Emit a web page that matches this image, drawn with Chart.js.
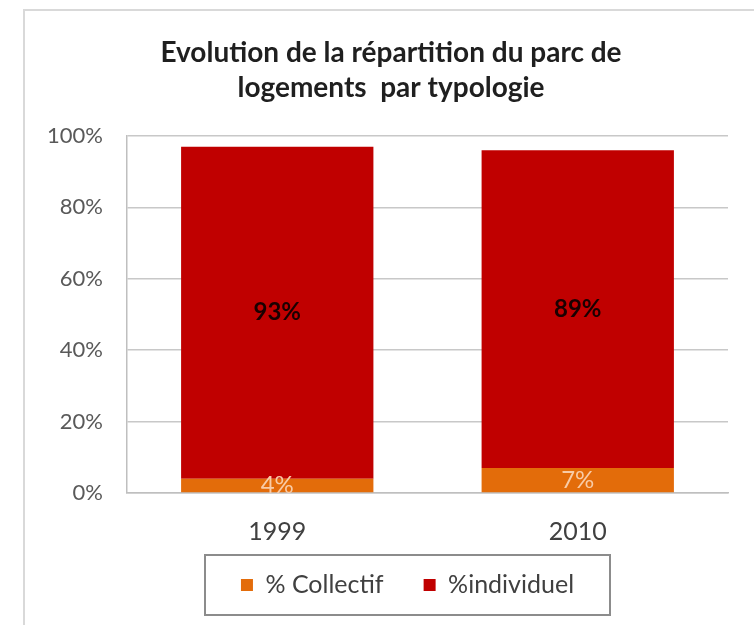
<!DOCTYPE html>
<html>
<head>
<meta charset="utf-8">
<script src="https://cdn.jsdelivr.net/npm/chart.js@4.4.1/dist/chart.umd.min.js"></script>
<style>
  html, body { margin: 0; padding: 0; background: #fff; }
  #wrap { width: 754px; height: 625px; }
</style>
</head>
<body>
<div id="wrap"><canvas id="typoChart" width="754" height="625"></canvas></div>
<script>
// données
const annees = ['1999', '2010'];
const collectif = [4, 7];
const individuel = [93, 89];
const yTicks = [0, 20, 40, 60, 80, 100];

const fontFamily = 'Lato, "Open Sans", sans-serif';

// cadre gris + fond blanc
const cadrePlugin = {
  id: 'cadre',
  beforeDraw(chart) {
    const ctx = chart.ctx;
    ctx.save();
    ctx.fillStyle = '#fff';
    ctx.fillRect(0, 0, chart.width, chart.height);
    ctx.strokeStyle = '#d9d9d9';
    ctx.lineWidth = 2;
    ctx.strokeRect(24, 10, chart.width, chart.height);
    ctx.restore();
  }
};

// place le titre et la légende (boîte encadrée)
const legendeBoxPlugin = {
  id: 'legendeBox',
  afterLayout(chart, args, opts) {
    const title = chart.titleBlock;
    if (title) {
      title.left = opts.titleLeft;
      title.right = opts.titleRight;
      title.width = opts.titleRight - opts.titleLeft;
    }
    const legend = chart.legend;
    if (!legend) return;
    const pad = legend.options.labels.padding;
    const size = legend.options.labels.font.size;
    // zone centrée sur la boîte, assez large pour garder une seule ligne
    const centre = (opts.left + opts.right) / 2;
    legend.left = centre - 300;
    legend.right = centre + 300;
    legend.width = 600;
    legend.top = (opts.top + opts.bottom) / 2 - pad - size / 2;
    legend.bottom = legend.top + legend.height;
  },
  afterDraw(chart, args, opts) {
    const ctx = chart.ctx;
    ctx.save();
    ctx.strokeStyle = '#8c8c8c';
    ctx.lineWidth = 2;
    ctx.strokeRect(opts.left, opts.top, opts.right - opts.left, opts.bottom - opts.top);
    ctx.restore();
  }
};

// étiquettes de valeurs au centre des barres
const etiquettesPlugin = {
  id: 'etiquettes',
  afterDatasetsDraw(chart) {
    const ctx = chart.ctx;
    ctx.save();
    ctx.textAlign = 'center';
    ctx.textBaseline = 'middle';
    chart.data.datasets.forEach((ds, i) => {
      const meta = chart.getDatasetMeta(i);
      ctx.font = (ds.labelWeight || 'normal') + ' 24px ' + fontFamily;
      ctx.fillStyle = ds.labelColor;
      meta.data.forEach((bar, j) => {
        const y = (bar.y + bar.base) / 2;
        ctx.fillText(ds.data[j] + '%', bar.x, y);
      });
    });
    ctx.restore();
  }
};

const ctx = document.getElementById('typoChart').getContext('2d');
new Chart(ctx, {
  type: 'bar',
  data: {
    labels: annees,
    datasets: [
      {
        label: '% Collectif',
        data: collectif,
        backgroundColor: '#e36c0a',
        labelColor: '#f8cba6',
        labelWeight: 'normal',
        categoryPercentage: 1,
        barPercentage: 0.64,
      },
      {
        label: '%individuel',
        data: individuel,
        backgroundColor: '#c00000',
        labelColor: '#1a0000',
        labelWeight: 'bold',
        categoryPercentage: 1,
        barPercentage: 0.64,
      },
    ],
  },
  options: {
    responsive: false,
    animation: false,
    layout: {
      padding: { left: 30, right: 26, top: 0, bottom: 5 },
    },
    plugins: {
      title: {
        display: true,
        text: ['Evolution de la répartition du parc de', 'logements  par typologie'],
        color: '#1f1f1f',
        font: { family: fontFamily, size: 28, weight: 'bold', lineHeight: 1.25 },
        padding: { top: 35, bottom: 31 },
      },
      legend: {
        display: true,
        position: 'bottom',
        labels: {
          color: '#404040',
          font: { family: fontFamily, size: 25 },
          boxWidth: 12,
          boxHeight: 12,
          padding: 40,
        },
      },
      tooltip: { enabled: false },
      legendeBox: {
        left: 205, top: 555, right: 610, bottom: 615,
        titleLeft: 54, titleRight: 728,
      },
    },
    scales: {
      x: {
        stacked: true,
        afterFit(scale) { scale.height = 52; },
        grid: { display: false, drawTicks: false },
        border: { display: true, color: '#bfbfbf', width: 1.5 },
        ticks: {
          color: '#404040',
          font: { family: fontFamily, size: 25 },
          padding: 24,
        },
      },
      y: {
        stacked: true,
        min: 0,
        max: 100,
        afterFit(scale) { scale.width = 97; },
        afterBuildTicks(scale) { scale.ticks = yTicks.map((v) => ({ value: v })); },
        grid: { color: '#c8c8c8', lineWidth: 1.5, drawTicks: false },
        border: { display: true, color: '#bfbfbf', width: 1.5 },
        ticks: {
          color: '#595959',
          font: { family: fontFamily, size: 22 },
          padding: 24,
          callback: (v) => v + '%',
        },
      },
    },
  },
  plugins: [cadrePlugin, legendeBoxPlugin, etiquettesPlugin],
});
</script>
</body>
</html>
